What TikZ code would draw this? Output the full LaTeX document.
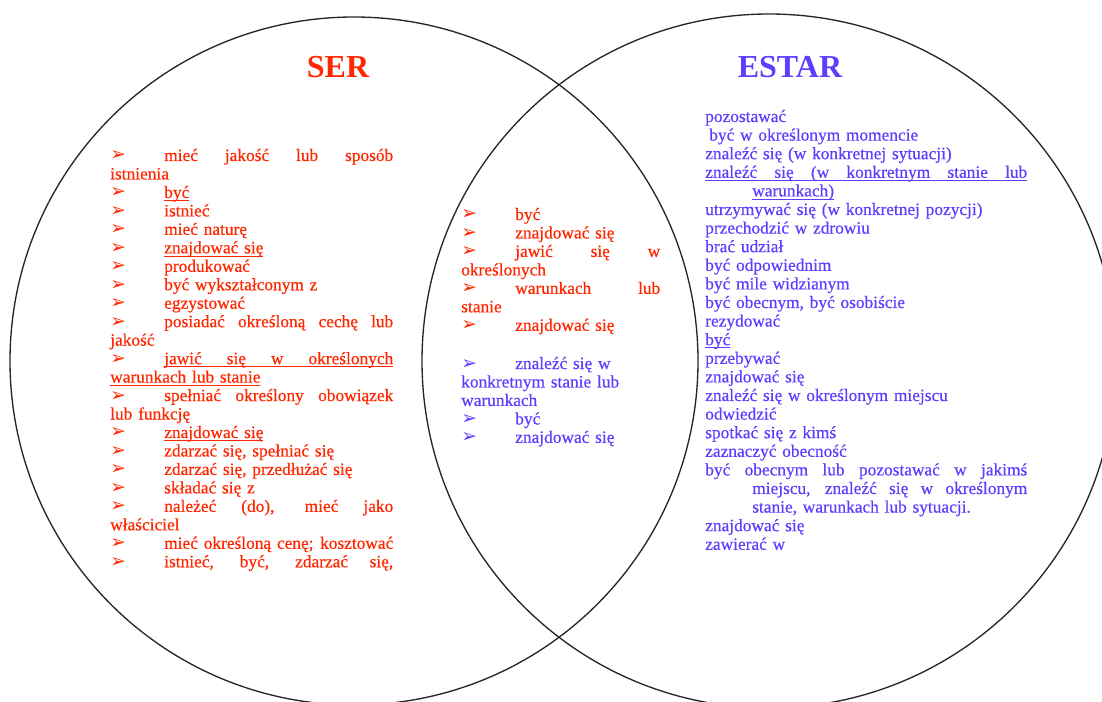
\documentclass[tikz,border=0pt]{standalone}
\usepackage{fontspec}
\setmainfont{Liberation Serif}
\newfontface\listfont{Liberation Serif}[FakeBold=0.5]
\newfontfamily\headfont{Liberation Serif}
\newfontfamily\dingfont{DejaVu Sans}
\usepackage{xcolor}
\usetikzlibrary{positioning}
\definecolor{serred}{RGB}{255,38,0}
\definecolor{estarblue}{RGB}{96,60,255}
\newcommand{\bul}{\makebox[40.5pt][l]{\dingfont\fontsize{14}{14}\selectfont ➢}}
\newcommand{\jbox}[2]{\makebox[#1][s]{\spaceskip=.25em plus 1fill minus .1em\relax #2}}
\newcommand{\jline}[1]{\jbox{\linewidth}{#1}}
\newcommand{\undl}[1]{\leavevmode\setbox0=\hbox{#1}\rlap{\rule[-2.2pt]{\wd0}{0.5pt}}\box0}

\begin{document}
\begin{tikzpicture}[x=0.75pt,y=-0.75pt,
	venn/.style={circle,draw=black!85,line width=1pt,inner sep=0pt},
	title/.style={font=\headfont\bfseries\fontsize{24}{24}\selectfont,anchor=base},
	col/.style={font=\listfont\fontsize{13}{13.85}\selectfont,align=left,inner sep=0pt,anchor=base west}]
	\clip (0,0) rectangle (1102,702);
	\node[venn,minimum size=516pt]   (sercircle)   at (354,361) {};
	\node[venn,minimum size=520.5pt] (estarcircle) at (769,361) {};
	\node[title,text=serred]    (ser)   at (338,78) {SER};
	\node[title,text=estarblue] (estar) at (790,78) {ESTAR};
	\node[col,text=serred,text width=212.25pt] (serlist) at (110,161) {%
		\jline{\bul mieć jakość lub sposób}\\
		istnienia\\
		\bul\undl{być}\\
		\bul istnieć\\
		\bul mieć naturę\\
		\bul\undl{znajdować się}\\
		\bul produkować\\
		\bul być wykształconym z\\
		\bul egzystować\\
		\jline{\bul posiadać określoną cechę lub}\\
		jakość\\
		\bul\undl{\jbox{171.75pt}{jawić się w określonych}}\\
		\undl{warunkach lub stanie}\\
		\jline{\bul spełniać określony obowiązek}\\
		lub funkcję\\
		\bul\undl{znajdować się}\\
		\bul zdarzać się, spełniać się\\
		\bul zdarzać się, przedłużać się\\
		\bul składać się z\\
		\jline{\bul należeć (do), mieć jako}\\
		właściciel\\
		\jline{\bul mieć określoną cenę; kosztować}\\
		\jline{\bul istnieć, być, zdarzać się,}};
	\node[col,text=serred,text width=149.25pt] (bothser) at (461,220) {%
		\bul być\\
		\bul znajdować się\\
		\jline{\bul jawić się w}\\
		określonych\\
		\jline{\bul warunkach lub}\\
		stanie\\
		\bul znajdować się};
	\node[col,text=estarblue,text width=149.25pt] (bothestar) at (461,369) {%
		\bul znaleźć się w\\
		konkretnym stanie lub\\
		warunkach\\
		\bul być\\
		\bul znajdować się};
	\node[col,text=estarblue,text width=241.5pt,font=\listfont\fontsize{13}{13.95}\selectfont] (estarlist) at (705,122) {%
		pozostawać\\
		\hspace*{3pt}być w określonym momencie\\
		znaleźć się (w konkretnej sytuacji)\\
		\undl{\jline{znaleźć się (w konkretnym stanie lub}}\\
		\hspace*{35.25pt}\undl{warunkach)}\\
		utrzymywać się (w konkretnej pozycji)\\
		przechodzić w zdrowiu\\
		brać udział\\
		być odpowiednim\\
		być mile widzianym\\
		być obecnym, być osobiście\\
		rezydować\\
		\undl{być}\\
		przebywać\\
		znajdować się\\
		znaleźć się w określonym miejscu\\
		odwiedzić\\
		spotkać się z kimś\\
		zaznaczyć obecność\\
		\jline{być obecnym lub pozostawać w jakimś}\\
		\hspace*{35.25pt}\jbox{206.25pt}{miejscu, znaleźć się w określonym}\\
		\hspace*{35.25pt}stanie, warunkach lub sytuacji.\\
		znajdować się\\
		zawierać w};
\end{tikzpicture}
\end{document}
